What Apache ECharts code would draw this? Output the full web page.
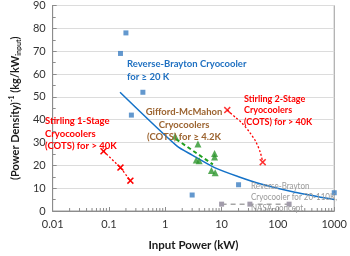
<!DOCTYPE html>
<html><head><meta charset="utf-8">
<script src="https://cdn.jsdelivr.net/npm/echarts@6/dist/echarts.min.js"></script>
<style>html,body{margin:0;padding:0;background:#fff}#c{width:350px;height:256px}</style>
</head><body><div id="c"></div>
<script>
// ---- data ----
const rbPower = [0.16, 0.2, 0.25, 0.4, 3, 20, 1000];
const rbMass  = [69, 78, 42, 52, 7, 11.5, 8];
const rbFitPower = [0.157, 1.6, 3, 7.5, 20, 50, 200, 1000];
const rbFitMass  = [52, 28.5, 24.5, 19, 15, 11.8, 8.2, 5];
const st1Power = [0.08, 0.16, 0.24];
const st1Mass  = [26.2, 19, 13.3];
const st2Power = [12.6, 53.7];
const st2Mass  = [44.2, 21.4];
const st2CurvePower = [12.6, 18, 22.4, 31, 40, 48.5, 53.7];
const st2CurveMass  = [44.2, 40.8, 38.8, 34.7, 30.6, 25.8, 21.4];
const gmPower = [1.5, 3.8, 7.5, 7.5, 3.55, 4.0, 6.6, 7.7];
const gmMass  = [32.7, 29.3, 25.2, 23.6, 22.3, 22.0, 17.7, 16.7];
const gmTrendPower = [1.55, 7.0];
const gmTrendMass  = [31.5, 20.4];
const nasaPower = [10, 31.8, 158];
const nasaMass  = [3, 3, 3];
const xMin = 0.01, xMax = 1000;
const yMin = 0, yMax = 90, yStep = 10;
const minorMult = [2, 3, 4, 5, 6, 7, 8, 9];
const decades = [0.01, 0.1, 1, 10, 100];

const zip = (a, b) => a.map((v, i) => [v, b[i]]);
const minorX = [];
decades.forEach(d => minorMult.forEach(m => minorX.push([d * m, 0])));

const FONT = 'Lato';
const XSYM = 'path://M0,1.5 L1.5,0 L5,3.5 L8.5,0 L10,1.5 L6.5,5 L10,8.5 L8.5,10 L5,6.5 L1.5,10 L0,8.5 L3.5,5 Z';

function note(x, y, text, color, size, weight, lh, align, sx) {
  return {type: 'text', x: x, y: y, z: 50, scaleX: sx || 1, style: {
    text: text, fill: color, font: weight + ' ' + size + 'px ' + FONT, lineHeight: lh,
    align: align || 'left', verticalAlign: 'top'}};
}

const chart = echarts.init(document.getElementById('c'), null, {renderer: 'canvas'});
chart.setOption({
  animation: false,
  textStyle: {fontFamily: FONT},
  grid: {left: 42, top: 4, right: 9, bottom: 31, show: true, borderColor: '#9a9a9a', borderWidth: 1},
  xAxis: {
    type: 'log', logBase: 10, min: xMin, max: xMax,
    name: 'Input Power (kW)', nameLocation: 'middle', nameGap: 28,
    nameTextStyle: {fontFamily: FONT, fontWeight: 'bold', fontSize: 11.5, color: '#1a1a1a'},
    axisLine: {lineStyle: {color: '#8c8c8c'}},
    axisTick: {show: true, inside: true, length: 4, lineStyle: {color: '#8c8c8c'}},
    axisLabel: {color: '#333', fontSize: 11, margin: 8, fontFamily: FONT,
      formatter: v => String(v)},
    splitLine: {show: false}
  },
  yAxis: {
    type: 'value', min: yMin, max: yMax, interval: yStep,
    name: '{b|(Power Density)}{sup|-1}{b| (kg/kW}{sub|input}{b|)}',
    nameLocation: 'middle', nameGap: 27, nameRotate: 90,
    nameTextStyle: {
      rich: {
        b: {fontFamily: FONT, fontWeight: 'bold', fontSize: 11, color: '#1a1a1a', lineHeight: 14, verticalAlign: 'middle'},
        sup: {fontFamily: FONT, fontWeight: 'bold', fontSize: 7, color: '#1a1a1a', lineHeight: 14, verticalAlign: 'top'},
        sub: {fontFamily: FONT, fontWeight: 'bold', fontSize: 7, color: '#1a1a1a', lineHeight: 14, verticalAlign: 'bottom'}
      }
    },
    axisLine: {show: true, lineStyle: {color: '#8c8c8c'}},
    axisTick: {show: true, inside: true, length: 4, lineStyle: {color: '#8c8c8c'}},
    minorTick: {show: true, splitNumber: 2, length: 3, lineStyle: {color: '#8c8c8c'}},
    axisLabel: {color: '#333', fontSize: 11, margin: 7, fontFamily: FONT},
    splitLine: {show: true, lineStyle: {color: '#dcdcdc', width: 1}}
  },
  series: [
    {type: 'custom', silent: true, data: minorX, z: 1,
      renderItem: (params, api) => {
        const p = api.coord([api.value(0), api.value(1)]);
        return {type: 'line', shape: {x1: p[0], y1: p[1], x2: p[0], y2: p[1] - 3},
          style: {stroke: '#8c8c8c', lineWidth: 1}};
      }},
    {type: 'line', data: zip(rbFitPower, rbFitMass), symbol: 'none', smooth: 0.25,
      lineStyle: {color: '#1472c8', width: 1.5}, z: 3},
    {type: 'scatter', data: zip(rbPower, rbMass), symbol: 'rect', symbolSize: 5,
      itemStyle: {color: '#3c7ec2'}, z: 4},
    {type: 'line', data: zip(st1Power, st1Mass), symbol: XSYM, symbolSize: 7,
      itemStyle: {color: '#ff0000'}, lineStyle: {color: '#ff0000', width: 1.3, type: [2, 2]}, z: 4},
    {type: 'line', data: zip(st2CurvePower, st2CurveMass), symbol: 'none', smooth: 0.3,
      lineStyle: {color: '#ff0000', width: 1.3, type: [2, 2]}, z: 3},
    {type: 'scatter', data: zip(st2Power, st2Mass), symbol: XSYM, symbolSize: 7,
      itemStyle: {color: '#ff0000'}, z: 4},
    {type: 'line', data: zip(gmTrendPower, gmTrendMass), symbol: 'none',
      lineStyle: {color: '#1fa01f', width: 2, type: [4, 3]}, z: 3},
    {type: 'scatter', data: zip(gmPower, gmMass), symbol: 'triangle', symbolSize: 7,
      itemStyle: {color: '#2d962d'}, z: 4},
    {type: 'line', data: zip(nasaPower, nasaMass), symbol: 'rect', symbolSize: 5,
      itemStyle: {color: '#a29cab'}, lineStyle: {color: '#a6a6a6', width: 1.5, type: [5, 4]}, z: 3}
  ],
  graphic: [
    note(127, 57, 'Reverse-Brayton Cryocooler\nfor ≥ 20 K', '#1f70c1', 9.5, 'bold', 13),
    note(45, 115, 'Stirling 1-Stage\nCryocoolers\n(COTS) for > 40K', '#ff0000', 9.5, 'bold', 12.5),
    note(244, 93, 'Stirling 2-Stage\nCryocoolers\n(COTS) for > 40K', '#ff0000', 9.5, 'bold', 11.5, 'left', 0.95),
    note(184, 106, 'Gifford-McMahon\nCryocoolers\n(COTS) for ≥ 4.2K', '#9c6430', 9.5, 'bold', 12.5, 'center'),
    note(251, 180, 'Reverse-Brayton\nCryocooler for 20-110K,\nNASA-concept', '#9a9a9a', 10, 'normal', 11, 'left', 0.8)
  ]
});
</script></body></html>
